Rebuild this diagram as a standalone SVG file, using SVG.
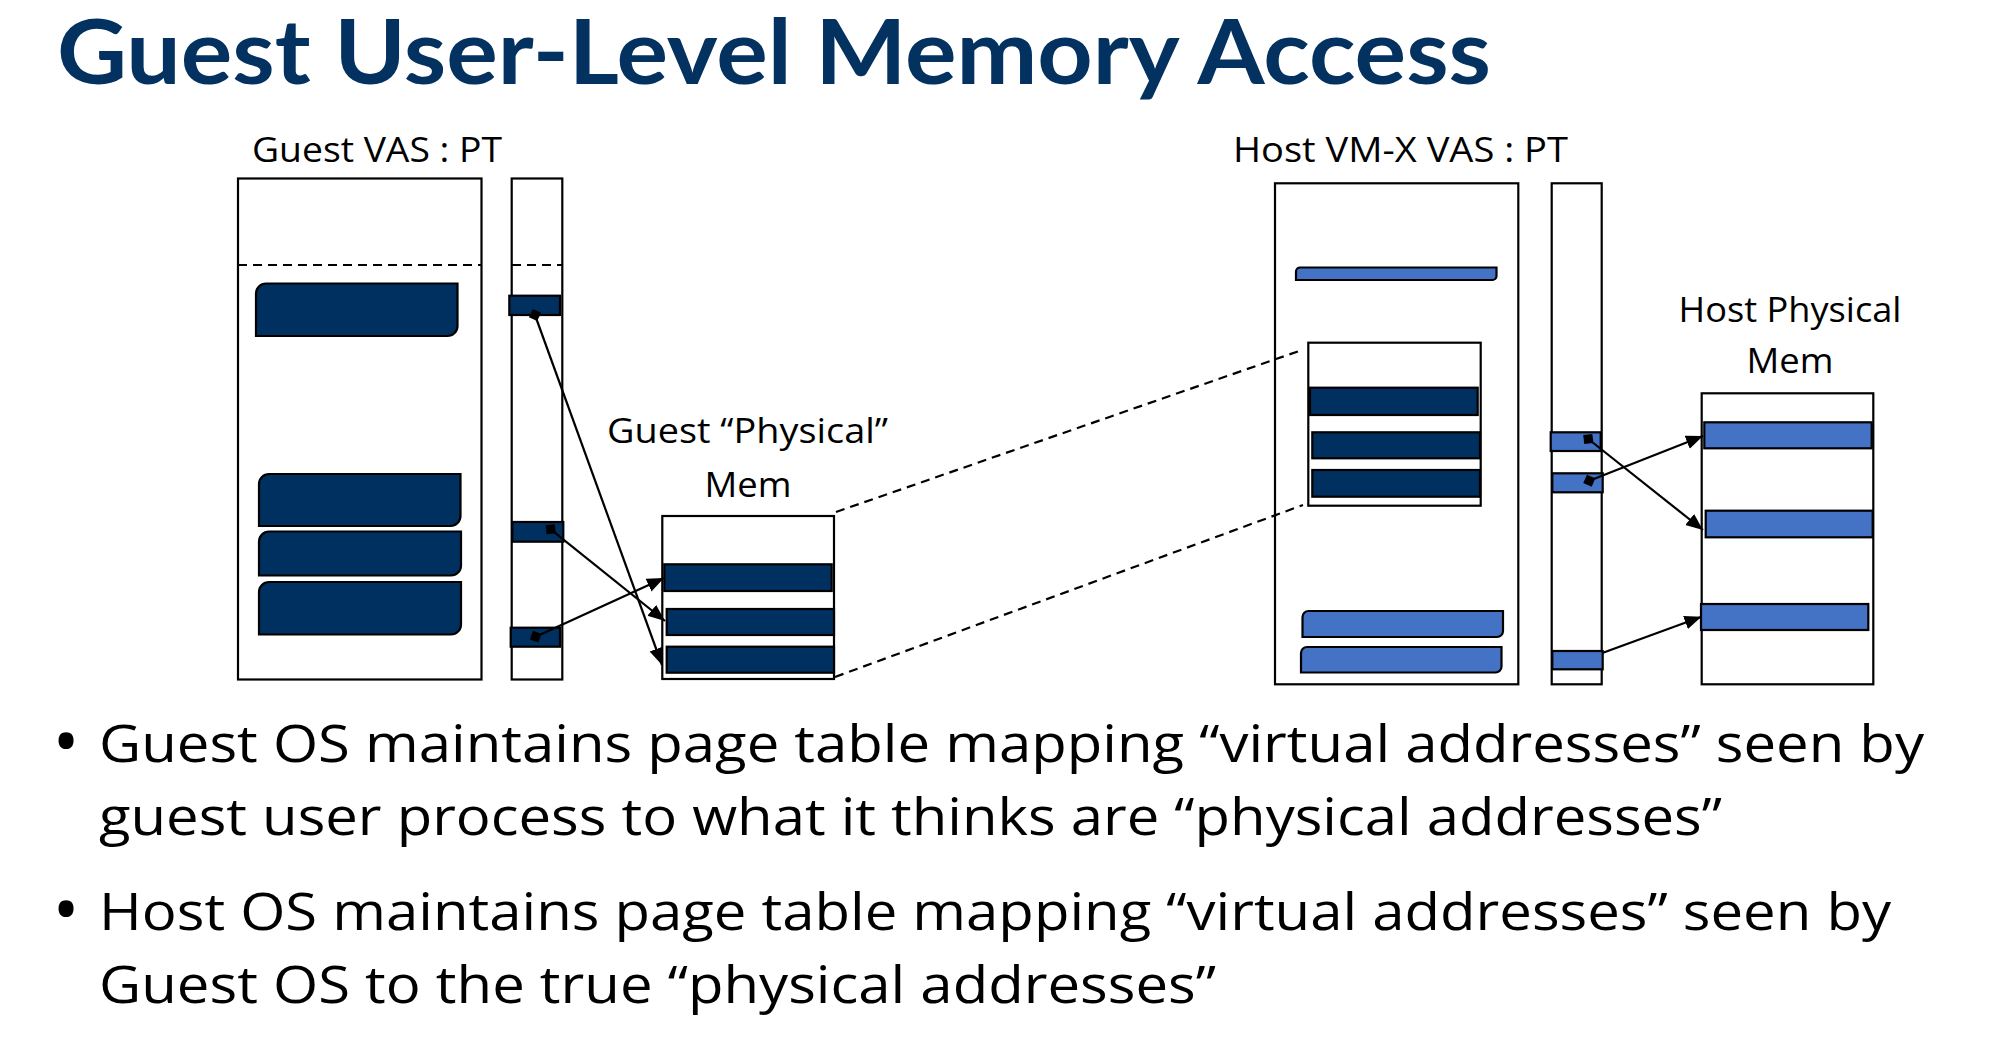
<svg xmlns="http://www.w3.org/2000/svg" width="2008" height="1038" viewBox="0 0 2008 1038">
<style>
.box{fill:#fff;stroke:#000;stroke-width:2.2}
.dk{fill:#00305F;stroke:#000;stroke-width:2.2}
.lt{fill:#4472C4;stroke:#000;stroke-width:2.2}
.lbl{font-family:"Open Sans","Noto Sans",sans-serif;font-size:35px;fill:#000}
.bul{font-family:"Open Sans","Noto Sans",sans-serif;font-size:51px;fill:#000}
.dot{font-family:"Open Sans","Noto Sans",sans-serif;font-size:72px;fill:#000}
.ttl{font-family:Lato,"Open Sans",sans-serif;font-weight:bold;font-size:89px;fill:#033160}
.dash{stroke:#000;stroke-width:2.2;stroke-dasharray:9 6;fill:none}
.arr{stroke:#000;stroke-width:2.2;fill:none;marker-end:url(#ah)}
.arrd{marker-start:url(#dm)}
</style>
<defs>
<marker id="ah" markerUnits="userSpaceOnUse" markerWidth="20" markerHeight="16" refX="17" refY="7" orient="auto"><path d="M0,0 L17,7 L0,14 Z" fill="#000"/></marker>
<marker id="dm" markerUnits="userSpaceOnUse" markerWidth="14" markerHeight="14" refX="6.5" refY="6.5" orient="auto"><path d="M0,6.5 L6.5,0 L13,6.5 L6.5,13 Z" fill="#000"/></marker>
</defs>
<rect width="2008" height="1038" fill="#fff"/>
<text id="title" class="ttl" x="57" y="84" textLength="1434" lengthAdjust="spacingAndGlyphs">Guest User-Level Memory Access</text>

<g id="guest-vas">
<text class="lbl" x="252" y="162" textLength="250" lengthAdjust="spacingAndGlyphs">Guest VAS : PT</text>
<rect class="box" x="238" y="178.5" width="243.5" height="501"/>
<line class="dash" x1="238" y1="265" x2="481" y2="265"/>
<path class="dk" d="M266,283.5 H457.5 V326 A10,10 0 0 1 447.5,336 H256 V293.5 A10,10 0 0 1 266,283.5 Z"/>
<path class="dk" d="M269,474 H460.5 V516 A10,10 0 0 1 450.5,526 H259 V484 A10,10 0 0 1 269,474 Z"/>
<path class="dk" d="M269,531.5 H461 V565.5 A10,10 0 0 1 451,575.5 H259 V541.5 A10,10 0 0 1 269,531.5 Z"/>
<path class="dk" d="M269,582 H461 V624.5 A10,10 0 0 1 451,634.5 H259 V592 A10,10 0 0 1 269,582 Z"/>
</g>

<g id="guest-pt">
<rect class="box" x="511.7" y="178.5" width="50.6" height="501"/>
<line class="dash" x1="512" y1="265" x2="563" y2="265"/>
<rect class="dk" x="509.3" y="295.7" width="50.7" height="19.3"/>
<rect class="dk" x="512.3" y="522" width="51" height="19.7"/>
<rect class="dk" x="510.7" y="627.7" width="49.3" height="19"/>
</g>

<g id="guest-phys">
<text class="lbl" x="747.5" y="443.3" text-anchor="middle" textLength="281" lengthAdjust="spacingAndGlyphs">Guest “Physical”</text>
<text class="lbl" x="748" y="496.7" text-anchor="middle" textLength="87" lengthAdjust="spacingAndGlyphs">Mem</text>
<rect class="box" x="662.3" y="516" width="171.7" height="163"/>
<rect class="dk" x="664.3" y="564.3" width="167.4" height="26.7"/>
<rect class="dk" x="666.7" y="609" width="167.3" height="26"/>
<rect class="dk" x="666.7" y="646.7" width="167.3" height="26"/>
</g>

<g id="host-vas">
<text class="lbl" x="1233" y="162" textLength="335" lengthAdjust="spacingAndGlyphs">Host VM-X VAS : PT</text>
<rect class="box" x="1275" y="183.3" width="243.3" height="501"/>
<path class="lt" d="M1300,267.5 H1496.5 V276 A4,4 0 0 1 1492.5,280 H1296 V271.5 A4,4 0 0 1 1300,267.5 Z"/>
<rect class="box" x="1308.3" y="342.7" width="172.4" height="163"/>
<rect class="dk" x="1310" y="387.7" width="167.7" height="27.3"/>
<rect class="dk" x="1312.3" y="432.3" width="167.7" height="26"/>
<rect class="dk" x="1312.3" y="470" width="167.7" height="26.7"/>
<path class="lt" d="M1308.5,611 H1503 V631 A6,6 0 0 1 1497,637 H1302.5 V617 A6,6 0 0 1 1308.5,611 Z"/>
<path class="lt" d="M1307,647 H1501.5 V666.5 A6,6 0 0 1 1495.5,672.5 H1301 V653 A6,6 0 0 1 1307,647 Z"/>
</g>

<g id="host-pt">
<rect class="box" x="1551.7" y="183.3" width="50" height="501"/>
<rect class="lt" x="1550.7" y="432.3" width="50" height="18.7"/>
<rect class="lt" x="1552.3" y="473.3" width="50.4" height="19"/>
<rect class="lt" x="1552.3" y="651" width="50.4" height="18.3"/>
</g>

<g id="host-phys">
<text class="lbl" x="1790" y="322.3" text-anchor="middle" textLength="223" lengthAdjust="spacingAndGlyphs">Host Physical</text>
<text class="lbl" x="1790" y="373.3" text-anchor="middle" textLength="87" lengthAdjust="spacingAndGlyphs">Mem</text>
<rect class="box" x="1701.7" y="393.3" width="171.6" height="291"/>
<rect class="lt" x="1704.3" y="422.3" width="167.4" height="26"/>
<rect class="lt" x="1705.7" y="510.7" width="167" height="26.6"/>
<rect class="lt" x="1701" y="604" width="167.3" height="26"/>
</g>

<g id="connectors">
<line class="arr arrd" x1="535" y1="315" x2="662" y2="665"/>
<line class="arr arrd" x1="550.7" y1="529.3" x2="665" y2="621"/>
<line class="arr arrd" x1="535.7" y1="636.7" x2="664" y2="578"/>
<line class="dash" x1="836" y1="512" x2="1302" y2="350"/>
<line class="dash" x1="835" y1="677" x2="1303" y2="505"/>
<line class="arr arrd" x1="1588.3" y1="439" x2="1703" y2="530"/>
<line class="arr arrd" x1="1589.3" y1="480.7" x2="1703" y2="436"/>
<line class="arr" x1="1603" y1="652.7" x2="1701.5" y2="616.7"/>
</g>

<g id="bullets">
<text class="dot" x="66" y="767" text-anchor="middle">•</text>
<text class="bul" x="99" y="761.7" textLength="1825" lengthAdjust="spacingAndGlyphs">Guest OS maintains page table mapping “virtual addresses” seen by</text>
<text class="bul" x="99" y="835" textLength="1623" lengthAdjust="spacingAndGlyphs">guest user process to what it thinks are “physical addresses”</text>
<text class="dot" x="66" y="935" text-anchor="middle">•</text>
<text class="bul" x="99" y="930" textLength="1792" lengthAdjust="spacingAndGlyphs">Host OS maintains page table mapping “virtual addresses” seen by</text>
<text class="bul" x="99" y="1003.3" textLength="1117" lengthAdjust="spacingAndGlyphs">Guest OS to the true “physical addresses”</text>
</g>
</svg>
